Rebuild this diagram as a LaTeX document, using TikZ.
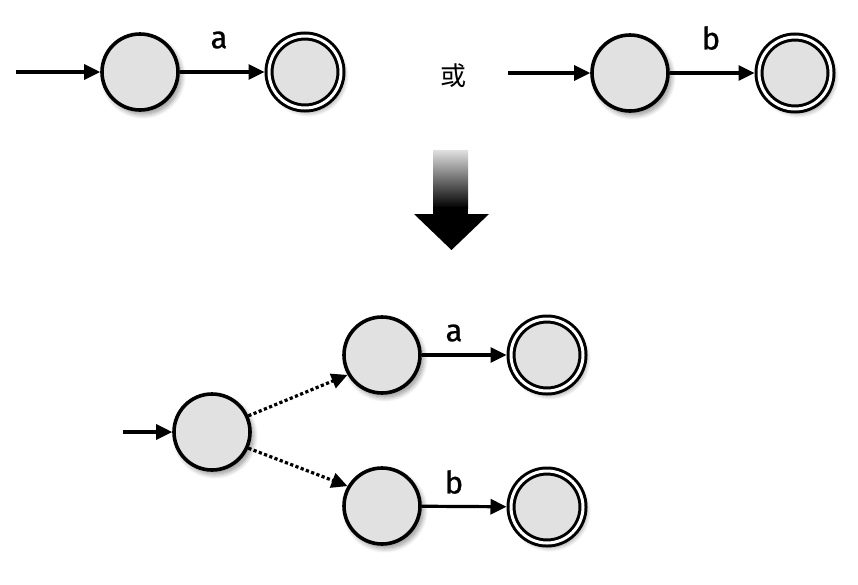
\documentclass[tikz,border=0pt]{standalone}
\usepackage{fontspec}
\newfontfamily\lblfont[FakeBold=0.8]{Fira Sans}
\newfontfamily\cjk{Noto Sans CJK SC}
\usetikzlibrary{arrows.meta,shadows.blur}
\definecolor{statefill}{RGB}{225,225,225}
\begin{document}
\begin{tikzpicture}[x=1pt,y=-1pt,
  st/.style={circle, draw=black, line width=3.6pt, fill=statefill, minimum size=76pt, inner sep=0pt,
    blur shadow={shadow xshift=3pt, shadow yshift=-4pt, shadow blur steps=10, shadow opacity=45, shadow blur radius=5pt}},
  acc/.style={st, double=white, double distance=3pt, line width=3pt, minimum size=72pt, outer sep=4.5pt},
  edge/.style={line width=3.2pt, -{Triangle[length=16pt,width=15pt]}},
  dotedge/.style={edge, dash pattern=on 3.2pt off 2.4pt},
  lbl/.style={inner sep=0pt, font=\lblfont\fontsize{31}{31}\selectfont}
]
\useasboundingbox (0,0) rectangle (858,584);

% top left
\coordinate (i1) at (16,72);
\node[st] (s1) at (140,72) {};
\node[acc] (f1) at (305,72) {};
\draw[edge] (i1) -- (s1);
\draw[edge] (s1) -- (f1);
\node[lbl] (la) at (219,40) {a};

% or
\node[inner sep=0pt, font=\cjk\fontsize{26}{26}\selectfont] (or) at (453,76) {或};

% top right
\coordinate (i2) at (508,73);
\node[st] (s2) at (630,73) {};
\node[acc] (f2) at (795,73) {};
\draw[edge] (i2) -- (s2);
\draw[edge] (s2) -- (f2);
\node[lbl] (lb) at (711,38) {b};

% big down arrow
\shade[top color=black!12, bottom color=black] (433,150) rectangle (468,208);
\fill[black] (433,207) rectangle (468,216);
\fill[black] (414,214) -- (489,214) -- (451.5,250) -- cycle;

% bottom
\coordinate (i0) at (123,432);
\node[st] (s0) at (212,432) {};
\node[st] (u1) at (382,355) {};
\node[acc] (uf) at (547,355) {};
\node[st] (l1) at (382,506) {};
\node[acc] (lf) at (547,507) {};
\draw[edge] (i0) -- (s0);
\draw[dotedge] (s0.24) -- (u1.210);
\draw[dotedge] (s0.-24) -- (l1.150);
\draw[edge] (u1) -- (uf);
\draw[edge] (l1) -- (lf);
\node[lbl] (la2) at (454,333) {a};
\node[lbl] (lb2) at (454,482) {b};
\end{tikzpicture}
\end{document}
